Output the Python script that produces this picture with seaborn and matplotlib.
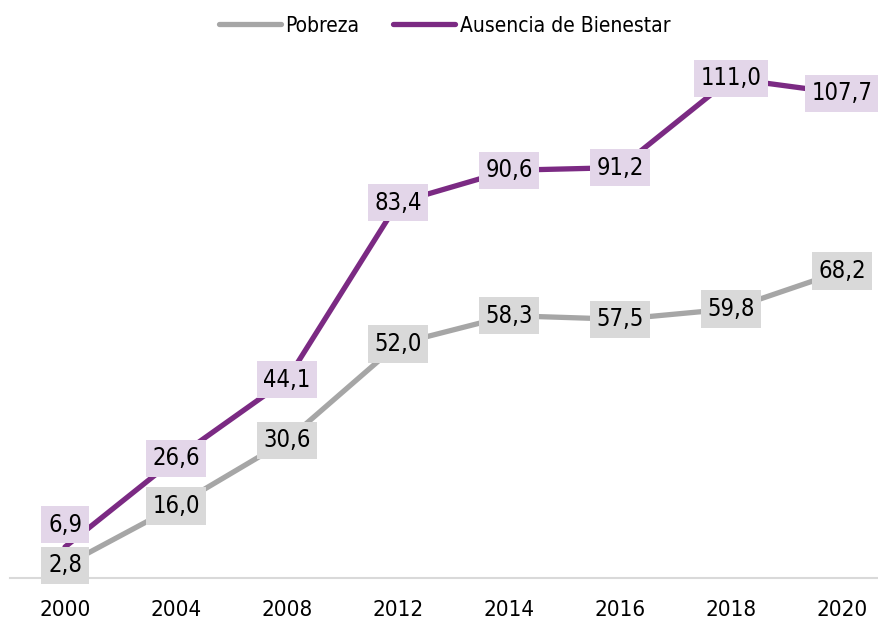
import numpy as np
import pandas as pd
import matplotlib.pyplot as plt
import seaborn as sns

years = ["2000", "2004", "2008", "2012", "2014", "2016", "2018", "2020"]
pobreza = [2.8, 16.0, 30.6, 52.0, 58.3, 57.5, 59.8, 68.2]
ausencia = [6.9, 26.6, 44.1, 83.4, 90.6, 91.2, 111.0, 107.7]
series_names = ["Pobreza", "Ausencia de Bienestar"]

line_colors = {"Pobreza": "#a6a6a6", "Ausencia de Bienestar": "#7b2a83"}
box_colors = {"Pobreza": "#d9d9d9", "Ausencia de Bienestar": "#e3d6e9"}

df = pd.DataFrame({
    "year": years * 2,
    "value": pobreza + ausencia,
    "serie": [series_names[0]] * len(years) + [series_names[1]] * len(years),
})

sns.set_theme(style="white")
plt.rcParams['font.family'] = ['DejaVu Sans']
plt.rcParams['font.stretch'] = 'condensed'
plt.rcParams['text.color'] = 'black'
plt.rcParams['xtick.color'] = 'black'

fig = plt.figure(figsize=(8.79, 6.24), dpi=100)
# axes placed in pixel terms: left 10px, right 879px, bottom at y=578, top at y=40
ax = fig.add_axes([10 / 879, (624 - 578) / 624, 869 / 879, (578 - 40) / 624])

sns.lineplot(data=df, x="year", y="value", hue="serie", palette=line_colors,
             linewidth=3.8, sort=False, ax=ax, legend=True)

# value labels in boxes
for name, vals in zip(series_names, [pobreza, ausencia]):
    for i, v in enumerate(vals):
        dy = 0
        if name == "Ausencia de Bienestar" and i == 0:
            dy = 16  # lift the first label so it does not cover the grey one
        ax.annotate(f"{v:.1f}".replace(".", ","), xy=(i, v), xytext=(0, dy),
                    textcoords="offset points", ha="center", va="center",
                    fontsize=17, color="black", zorder=5,
                    bbox=dict(boxstyle="square,pad=0.28", fc=box_colors[name], ec="none"))

ax.set_xlim(-55 / 111, 7 + 37 / 111)
ax.set_ylim(0, (578 - 40) / 4.5)
ax.set_xlabel("")
ax.set_ylabel("")
ax.set_yticks([])
ax.tick_params(axis="x", labelsize=16, length=0, pad=16)
for s in ["top", "right", "left"]:
    ax.spines[s].set_visible(False)
ax.spines["bottom"].set_color("#d9d9d9")
ax.spines["bottom"].set_linewidth(1.5)

leg = ax.legend(loc="upper center", bbox_to_anchor=(0.5, 1.08), ncol=2, frameon=False,
                fontsize=15, handlelength=3.0, handletextpad=0.2, columnspacing=1.6)
for h in leg.get_lines():
    h.set_linewidth(3.8)
    h.set_solid_capstyle("round")

fig.savefig("out.png", dpi=100)
